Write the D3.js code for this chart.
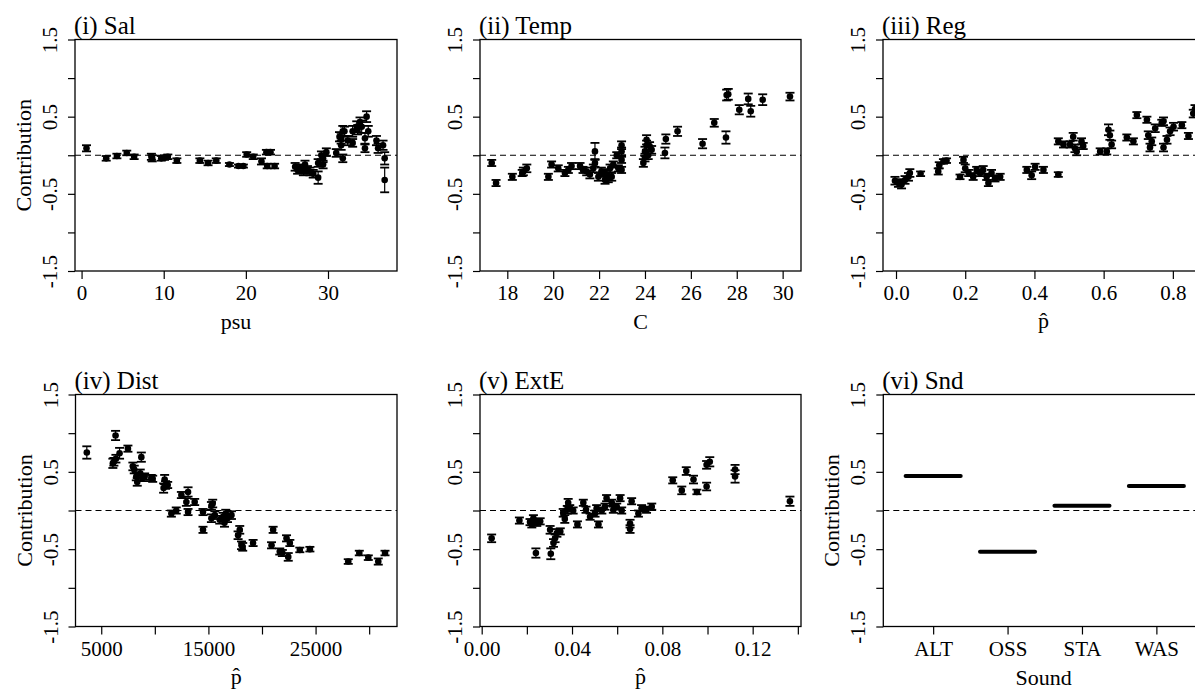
<!DOCTYPE html>
<html lang="en">
<head>
<meta charset="UTF-8">
<title>Partial contributions of model terms</title>
<script src="https://d3js.org/d3.v7.min.js"></script>
<style>
  body { margin: 0; background: #fff; }
  svg { display: block; font-family: "Liberation Serif", "Times New Roman", serif; }
</style>
</head>
<body>
<div id="chart"></div>
<script>
// ---- data (x, contribution, half-width of error bar) ----
const salX = [0.6, 3.0, 4.3, 5.5, 6.4, 8.5, 8.6, 9.7, 10.1, 10.5, 11.6, 14.4, 15.4, 16.4, 18.0, 19.1, 19.7, 20.1, 20.9, 21.9,
  22.5, 22.6, 23.0, 23.5, 26.0, 26.3, 26.6, 27.0, 27.2, 27.5, 27.8, 28.2, 28.8, 28.8, 29.2, 29.4, 29.4, 29.8, 31.0, 31.4,
  31.6, 31.6, 31.8, 31.8, 32.0, 32.4, 33.0, 33.0, 33.5, 33.6, 33.9, 34.1, 34.5, 34.5, 34.7, 34.9, 35.9, 36.1, 36.7, 36.9, 36.9];
const salY = [0.09, -0.04, -0.01, 0.03, -0.02, -0.02, -0.04, -0.04, -0.03, -0.02, -0.07, -0.07, -0.10, -0.07, -0.12, -0.14, -0.14, 0.01, -0.02, -0.08,
  0.04, -0.14, 0.04, -0.14, -0.15, -0.19, -0.17, -0.21, -0.12, -0.19, -0.21, -0.24, -0.29, -0.10, 0.00, -0.04, -0.12, 0.04, 0.03, 0.24,
  0.13, 0.22, -0.04, 0.31, 0.31, 0.19, 0.16, 0.31, 0.37, 0.33, 0.43, 0.37, 0.22, 0.09, 0.50, 0.31, 0.19, 0.09, 0.13, -0.04, -0.32];
const salSE = [0.04, 0.03, 0.03, 0.03, 0.03, 0.04, 0.04, 0.03, 0.03, 0.03, 0.03, 0.03, 0.03, 0.03, 0.02, 0.02, 0.02, 0.03, 0.03, 0.04,
  0.03, 0.03, 0.03, 0.03, 0.05, 0.05, 0.05, 0.05, 0.05, 0.05, 0.05, 0.05, 0.08, 0.05, 0.05, 0.05, 0.05, 0.05, 0.05, 0.06,
  0.06, 0.07, 0.05, 0.07, 0.06, 0.06, 0.05, 0.07, 0.07, 0.06, 0.06, 0.08, 0.07, 0.05, 0.07, 0.07, 0.06, 0.06, 0.06, 0.08, 0.16];

const tempX = [17.32, 17.51, 18.22, 18.65, 18.70, 18.85, 19.79, 19.93, 20.22, 20.51, 20.66, 20.80, 21.17, 21.30, 21.46, 21.60, 21.75, 21.82, 21.82, 21.97,
  22.10, 22.20, 22.26, 22.34, 22.40, 22.48, 22.55, 22.62, 22.77, 22.84, 22.98, 22.98, 22.98, 22.98, 23.93, 24.00, 24.00, 24.07, 24.07, 24.14,
  24.20, 24.29, 24.87, 24.91, 25.42, 26.51, 27.02, 27.53, 27.56, 27.63, 28.11, 28.50, 28.61, 29.13, 30.32];
const tempY = [-0.10, -0.36, -0.28, -0.23, -0.21, -0.17, -0.28, -0.12, -0.17, -0.23, -0.19, -0.14, -0.14, -0.19, -0.21, -0.25, -0.17, 0.05, -0.10, -0.28,
  -0.21, -0.23, -0.32, -0.25, -0.30, -0.17, -0.28, -0.12, 0.00, -0.17, -0.19, -0.06, 0.05, 0.13, -0.10, -0.03, 0.05, 0.13, 0.20, 0.00,
  0.12, 0.07, 0.03, 0.21, 0.31, 0.15, 0.42, 0.23, 0.78, 0.79, 0.59, 0.73, 0.57, 0.72, 0.76];
const tempSE = [0.04, 0.04, 0.04, 0.04, 0.05, 0.05, 0.04, 0.04, 0.04, 0.04, 0.04, 0.04, 0.04, 0.04, 0.05, 0.05, 0.05, 0.11, 0.05, 0.05,
  0.05, 0.05, 0.05, 0.05, 0.05, 0.05, 0.05, 0.04, 0.04, 0.04, 0.04, 0.04, 0.05, 0.05, 0.05, 0.05, 0.06, 0.06, 0.06, 0.05,
  0.05, 0.05, 0.07, 0.06, 0.06, 0.06, 0.05, 0.08, 0.07, 0.07, 0.06, 0.07, 0.07, 0.07, 0.05];

const regX = [-0.003, 0.007, 0.016, 0.026, 0.036, 0.040, 0.071, 0.122, 0.125, 0.137, 0.146, 0.185, 0.195, 0.200, 0.210, 0.223, 0.233, 0.243, 0.252, 0.262,
  0.267, 0.276, 0.286, 0.301, 0.378, 0.392, 0.402, 0.426, 0.469, 0.469, 0.484, 0.503, 0.512, 0.517, 0.522, 0.536, 0.541, 0.590, 0.609, 0.614,
  0.618, 0.623, 0.667, 0.686, 0.696, 0.725, 0.729, 0.734, 0.739, 0.749, 0.768, 0.773, 0.773, 0.783, 0.792, 0.802, 0.826, 0.845, 0.859, 0.864];
const regY = [-0.33, -0.36, -0.38, -0.32, -0.28, -0.23, -0.24, -0.21, -0.13, -0.08, -0.07, -0.28, -0.06, -0.17, -0.23, -0.28, -0.19, -0.23, -0.19, -0.28,
  -0.36, -0.23, -0.30, -0.28, -0.19, -0.26, -0.15, -0.19, -0.25, 0.18, 0.14, 0.14, 0.24, 0.09, 0.05, 0.18, 0.12, 0.05, 0.05, 0.33,
  0.26, 0.14, 0.23, 0.18, 0.52, 0.46, 0.26, 0.10, 0.18, 0.35, 0.42, 0.44, 0.10, 0.20, 0.31, 0.37, 0.39, 0.25, 0.54, 0.60];
const regSE = [0.05, 0.05, 0.05, 0.05, 0.05, 0.05, 0.03, 0.04, 0.04, 0.03, 0.03, 0.03, 0.04, 0.05, 0.04, 0.04, 0.04, 0.04, 0.05, 0.04,
  0.04, 0.04, 0.04, 0.04, 0.04, 0.05, 0.04, 0.04, 0.03, 0.04, 0.04, 0.04, 0.05, 0.05, 0.05, 0.04, 0.04, 0.04, 0.04, 0.07,
  0.06, 0.05, 0.04, 0.04, 0.04, 0.04, 0.05, 0.05, 0.05, 0.05, 0.04, 0.05, 0.05, 0.05, 0.05, 0.05, 0.04, 0.04, 0.05, 0.05];

const distX = [3654, 6084, 6180, 6336, 6370, 6710, 7490, 7953, 8080, 8270, 8360, 8640, 8740, 8850, 9050, 9673, 9800, 10820, 10916, 11000,
  11200, 11542, 12000, 12477, 12944, 13100, 13100, 13720, 14495, 14495, 15280, 15280, 15400, 15600, 16057, 16370, 16500, 16620, 16780, 17150,
  17770, 17925, 18085, 18200, 19170, 20890, 21040, 21660, 21900, 22290, 22450, 22600, 23530, 24470, 28050, 29080, 29920, 30850, 31480];
const distY = [0.75, 0.61, 0.63, 0.97, 0.67, 0.74, 0.80, 0.57, 0.53, 0.44, 0.37, 0.48, 0.69, 0.42, 0.44, 0.42, 0.41, 0.29, 0.40, 0.33,
  0.33, -0.04, 0.00, 0.20, 0.11, 0.24, -0.02, 0.11, -0.02, -0.25, 0.06, -0.10, 0.09, -0.06, -0.12, -0.08, -0.16, -0.04, -0.10, -0.06,
  -0.32, -0.25, -0.45, -0.47, -0.42, -0.45, -0.25, -0.53, -0.55, -0.36, -0.60, -0.42, -0.51, -0.50, -0.66, -0.55, -0.61, -0.66, -0.55];
const distSE = [0.08, 0.06, 0.05, 0.06, 0.05, 0.07, 0.04, 0.05, 0.05, 0.05, 0.05, 0.05, 0.06, 0.04, 0.04, 0.04, 0.04, 0.06, 0.06, 0.05,
  0.04, 0.04, 0.04, 0.04, 0.05, 0.06, 0.04, 0.04, 0.04, 0.04, 0.05, 0.05, 0.05, 0.05, 0.05, 0.05, 0.05, 0.05, 0.05, 0.05,
  0.05, 0.05, 0.05, 0.05, 0.04, 0.04, 0.04, 0.04, 0.04, 0.04, 0.05, 0.04, 0.03, 0.03, 0.03, 0.03, 0.03, 0.04, 0.03];

const extX = [0.0044, 0.0167, 0.0214, 0.0222, 0.0229, 0.0240, 0.0244, 0.0259, 0.0303, 0.0306, 0.0318, 0.0325, 0.0333, 0.0348, 0.0361, 0.0368, 0.0379, 0.0383, 0.0390, 0.0405,
  0.0424, 0.0450, 0.0462, 0.0480, 0.0502, 0.0509, 0.0517, 0.0532, 0.0546, 0.0553, 0.0576, 0.0583, 0.0598, 0.0613, 0.0620, 0.0657, 0.0657, 0.0664, 0.0694, 0.0708,
  0.0730, 0.0753, 0.0846, 0.0886, 0.0906, 0.0938, 0.0953, 0.0996, 0.0996, 0.1010, 0.1122, 0.1122, 0.1365];
const extY = [-0.36, -0.13, -0.15, -0.18, -0.10, -0.55, -0.16, -0.14, -0.25, -0.56, -0.42, -0.36, -0.29, -0.27, -0.03, -0.11, 0.01, 0.10, 0.03, 0.00,
  -0.18, 0.10, 0.01, -0.08, -0.04, 0.03, -0.18, 0.00, 0.05, 0.16, 0.10, 0.01, 0.05, 0.16, 0.00, -0.17, -0.24, 0.12, -0.04, 0.03,
  0.01, 0.05, 0.39, 0.26, 0.51, 0.40, 0.24, 0.31, 0.59, 0.63, 0.53, 0.44, 0.12];
const extSE = [0.05, 0.04, 0.04, 0.04, 0.04, 0.06, 0.04, 0.04, 0.05, 0.07, 0.05, 0.05, 0.05, 0.04, 0.05, 0.05, 0.05, 0.05, 0.04, 0.04,
  0.04, 0.04, 0.04, 0.04, 0.04, 0.04, 0.04, 0.04, 0.04, 0.04, 0.04, 0.04, 0.04, 0.04, 0.04, 0.05, 0.05, 0.04, 0.04, 0.04,
  0.04, 0.04, 0.04, 0.05, 0.05, 0.05, 0.03, 0.05, 0.05, 0.06, 0.06, 0.08, 0.06];

const sndLevels = ["ALT", "OSS", "STA", "WAS"];
const sndY = [0.445, -0.535, 0.062, 0.316];

const yTicks = [-1.5, -1, -0.5, 0, 0.5, 1, 1.5];
const yLabelled = [-1.5, -0.5, 0.5, 1.5];

// ---- layout ----
const W = 1195, H = 691;
const rowTop = [39.5, 271], rowBottom = [394.5, 626.5];
const cols = [[75, 397], [480, 801], [883, 1204]];

const svg = d3.select('#chart').append('svg')
  .attr('width', W)
  .attr('height', H);

function panel(p) {
  const [x0, x1] = p.col, [y0, y1] = p.row;
  const g = svg.append('g');
  const x = d3.scaleLinear().domain(p.xDomain).range([x0, x1]);
  const y = d3.scaleLinear().domain([-1.5, 1.5]).range([y1, y0]);

  // zero reference line
  g.append('line')
    .attr('x1', x0).attr('x2', x1)
    .attr('y1', y(0)).attr('y2', y(0))
    .attr('stroke', '#000').attr('stroke-width', 1.2)
    .attr('stroke-dasharray', '6,4');

  // x axis
  const ax = g.append('g')
    .attr('transform', `translate(0,${y1})`)
    .call(d3.axisBottom(x).tickValues(p.xTicks).tickFormat(p.xFormat).tickSize(8).tickPadding(0));
  ax.attr('font-family', null).attr('font-size', 21).style('color', '#000');
  ax.select('.domain').remove();
  ax.selectAll('line').attr('stroke-width', 1.2);
  ax.selectAll('text').attr('y', 29).attr('dy', null);

  // y axis, labels turned parallel to the axis
  const ay = g.append('g')
    .attr('transform', `translate(${x0},0)`)
    .call(d3.axisLeft(y).tickValues(yTicks)
      .tickFormat(d => yLabelled.includes(d) ? d3.format('.1f')(d).replace('−', '-') : '')
      .tickSize(7).tickPadding(0));
  ay.attr('font-family', null).attr('font-size', 21).style('color', '#000');
  ay.select('.domain').remove();
  ay.selectAll('line').attr('stroke-width', 1.2);
  ay.selectAll('text')
    .attr('x', null).attr('dy', null)
    .attr('text-anchor', 'middle')
    .attr('transform', 'translate(-18,0) rotate(-90)');

  // frame
  g.append('rect')
    .attr('x', x0).attr('y', y0)
    .attr('width', x1 - x0).attr('height', y1 - y0)
    .attr('fill', 'none').attr('stroke', '#000').attr('stroke-width', 1.3);

  if (p.xs) {
    const pts = p.xs.map((v, i) => ({ x: v, y: p.ys[i], se: p.se[i] }));
    const eb = g.append('g').selectAll('g').data(pts).join('g');
    eb.append('line')
      .attr('x1', d => x(d.x)).attr('x2', d => x(d.x))
      .attr('y1', d => y(d.y - d.se)).attr('y2', d => y(d.y + d.se))
      .attr('stroke', '#000').attr('stroke-width', 1.2);
    eb.append('line')
      .attr('x1', d => x(d.x) - 4.5).attr('x2', d => x(d.x) + 4.5)
      .attr('y1', d => y(d.y + d.se)).attr('y2', d => y(d.y + d.se))
      .attr('stroke', '#000').attr('stroke-width', 1.8);
    eb.append('line')
      .attr('x1', d => x(d.x) - 4.5).attr('x2', d => x(d.x) + 4.5)
      .attr('y1', d => y(d.y - d.se)).attr('y2', d => y(d.y - d.se))
      .attr('stroke', '#000').attr('stroke-width', 1.8);
    eb.append('circle')
      .attr('cx', d => x(d.x)).attr('cy', d => y(d.y))
      .attr('r', 3.3).attr('fill', '#000');
  }

  if (p.levels) {
    // factor term: one thick level segment per category
    g.append('g').selectAll('line')
      .data(p.levels.map((l, i) => ({ i: i + 1, v: p.levelY[i] })))
      .join('line')
      .attr('x1', d => x(d.i - 0.37)).attr('x2', d => x(d.i + 0.37))
      .attr('y1', d => y(d.v)).attr('y2', d => y(d.v))
      .attr('stroke', '#000').attr('stroke-width', 4).attr('stroke-linecap', 'round');
  }

  // panel title
  g.append('text')
    .attr('x', x0 - 1).attr('y', y0 - 6)
    .attr('font-size', 25)
    .text(p.title);

  // y title
  if (p.yTitle) {
    g.append('text')
      .attr('transform', `translate(${x0 - 44},${(y0 + y1) / 2}) rotate(-90)`)
      .attr('text-anchor', 'middle')
      .attr('font-size', 22)
      .text('Contribution');
  }

  // x title
  g.append('text')
    .attr('x', (x0 + x1) / 2).attr('y', y1 + (p.hat ? 57 : 58))
    .attr('text-anchor', 'middle').attr('font-size', 22)
    .text(p.hat ? 'p\u0302' : p.xTitle);
}

panel({
  title: '(i) Sal', row: rowTop, col: cols[0], yTitle: true,
  xDomain: [-0.8, 38.4], xTicks: [0, 10, 20, 30], xFormat: d3.format('d'),
  xs: salX, ys: salY, se: salSE, xTitle: 'psu'
});
panel({
  title: '(ii) Temp', row: rowTop, col: cols[1],
  xDomain: [16.81, 30.8], xTicks: [18, 20, 22, 24, 26, 28, 30], xFormat: d3.format('d'),
  xs: tempX, ys: tempY, se: tempSE, xTitle: 'C'
});
panel({
  title: '(iii) Reg', row: rowTop, col: cols[2],
  xDomain: [-0.0376, 0.89], xTicks: [0, 0.2, 0.4, 0.6, 0.8], xFormat: d3.format('.1f'),
  xs: regX, ys: regY, se: regSE, hat: true
});
panel({
  title: '(iv) Dist', row: rowBottom, col: [75.5, 397], yTitle: true,
  xDomain: [2598, 32598], xTicks: [5000, 10000, 15000, 20000, 25000, 30000],
  xFormat: d => [5000, 15000, 25000].includes(d) ? String(d) : '',
  xs: distX, ys: distY, se: distSE, hat: true
});
panel({
  title: '(v) ExtE', row: rowBottom, col: cols[1],
  xDomain: [-0.00075, 0.1414], xTicks: [0, 0.02, 0.04, 0.06, 0.08, 0.10, 0.12, 0.14],
  xFormat: d => [0, 0.04, 0.08, 0.12].includes(d) ? d3.format('.2f')(d) : '',
  xs: extX, ys: extY, se: extSE, hat: true
});
panel({
  title: '(vi) Snd', row: rowBottom, col: [883.3, 1204], yTitle: true,
  xDomain: [0.33, 4.64], xTicks: [1, 2, 3, 4], xFormat: d => sndLevels[d - 1],
  levels: sndLevels, levelY: sndY, xTitle: 'Sound'
});
</script>
</body>
</html>
